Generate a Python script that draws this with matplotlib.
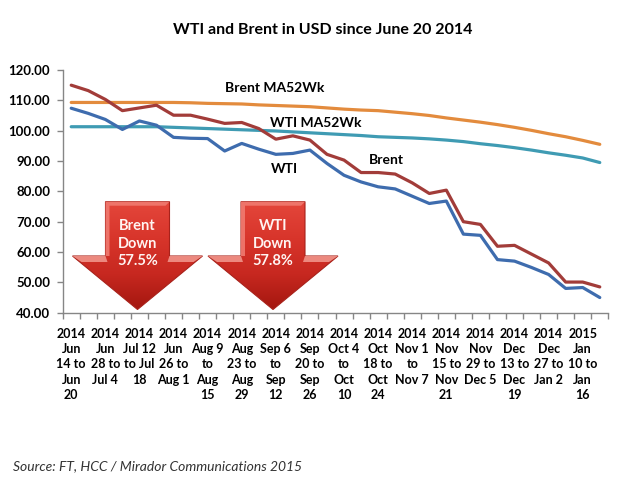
import numpy as np
import matplotlib
matplotlib.use("Agg")
import matplotlib.pyplot as plt
from matplotlib.patches import Polygon

plt.rcParams['font.family'] = ['Lato', 'DejaVu Sans']

# weekly closes, Jun 14-20 2014 ... Jan 17-23 2015 (32 weeks)
brent = [115.0, 113.2, 110.3, 106.6, 107.5, 108.4, 105.1, 105.1,
         103.8, 102.4, 102.7, 100.7, 97.2, 98.3, 96.9, 92.2,
         90.3, 86.2, 86.2, 85.7, 82.8, 79.3, 80.4, 70.0,
         69.1, 61.9, 62.2, 59.3, 56.4, 50.1, 50.1, 48.5]
wti = [107.4, 105.7, 103.7, 100.4, 103.2, 101.8, 97.8, 97.5,
       97.4, 93.3, 95.8, 93.9, 92.2, 92.5, 93.6, 89.2,
       85.3, 83.1, 81.5, 80.8, 78.4, 76.0, 76.8, 65.9,
       65.5, 57.5, 57.0, 54.9, 52.6, 48.0, 48.3, 45.0]
brent_ma = [109.3, 109.3, 109.3, 109.3, 109.3, 109.3, 109.3, 109.2,
            109.0, 108.9, 108.8, 108.5, 108.3, 108.1, 107.9, 107.5,
            107.1, 106.8, 106.6, 106.1, 105.6, 105.0, 104.2, 103.5,
            102.8, 102.0, 101.1, 100.1, 99.0, 98.0, 96.8, 95.5]
wti_ma = [101.3, 101.3, 101.3, 101.3, 101.3, 101.3, 101.1, 100.9,
          100.7, 100.5, 100.3, 100.1, 99.9, 99.6, 99.3, 99.0,
          98.7, 98.4, 98.0, 97.8, 97.6, 97.3, 96.9, 96.4,
          95.7, 95.1, 94.4, 93.6, 92.7, 91.9, 91.0, 89.5]

week_labels = ["2014\nJun\n14 to\nJun\n20", "2014\nJun\n28 to\nJul 4",
               "2014\nJul 12\nto Jul\n18", "2014\nJun\n26 to\nAug 1",
               "2014\nAug 9\nto\nAug\n15", "2014\nAug\n23 to\nAug\n29",
               "2014\nSep 6\nto\nSep\n12", "2014\nSep\n20 to\nSep\n26",
               "2014\nOct 4\nto\nOct\n10", "2014\nOct\n18 to\nOct\n24",
               "2014\nNov 1\nto\nNov 7", "2014\nNov\n15 to\nNov\n21",
               "2014\nNov\n29 to\nDec 5", "2014\nDec\n13 to\nDec\n19",
               "2014\nDec\n27 to\nJan 2", "2015\nJan\n10 to\nJan\n16"]

W, H = 638, 482
fig = plt.figure(figsize=(W / 100, H / 100), dpi=100)
ax = fig.add_axes([62.7 / W, 1 - 312.7 / H, (608.3 - 62.7) / W, (312.7 - 70) / H])

x = np.arange(len(brent))
ax.plot(x, brent_ma, color='#e38b3d', lw=2.3, solid_capstyle='round')
ax.plot(x, wti_ma, color='#3f9bb3', lw=2.3, solid_capstyle='round')
ax.plot(x, brent, color='#a23c39', lw=2.3, solid_capstyle='round')
ax.plot(x, wti, color='#3e6cae', lw=2.3, solid_capstyle='round')

ax.set_xlim(-0.5, len(brent) - 0.5)
ax.set_ylim(40, 120)
ax.set_yticks(np.arange(40, 121, 10))
ax.set_yticklabels(['%.2f' % v for v in np.arange(40, 121, 10)],
                   fontsize=9.5, fontweight='bold')
ax.set_xticks(x[::2])
ax.set_xticklabels(week_labels, fontsize=9, fontweight='bold',
                   linespacing=1.32, va='top')
ax.set_xticks(np.arange(len(brent) + 1) - 0.5, minor=True)
ax.tick_params(axis='x', which='major', length=0, pad=11)
ax.tick_params(axis='x', which='minor', length=4, color='#868686', width=1)
ax.tick_params(axis='y', length=4, color='#868686', width=1, pad=5)
for s in ['top', 'right']:
    ax.spines[s].set_visible(False)
for s in ['left', 'bottom']:
    ax.spines[s].set_color('#868686')
    ax.spines[s].set_linewidth(1)

# series labels
ax.text(275 / W, 1 - 88 / H, 'Brent MA52Wk', transform=fig.transFigure,
        ha='center', va='center', fontsize=10, fontweight='bold')
ax.text(316 / W, 1 - 123 / H, 'WTI MA52Wk', transform=fig.transFigure,
        ha='center', va='center', fontsize=10, fontweight='bold')
ax.text(284 / W, 1 - 169 / H, 'WTI', transform=fig.transFigure,
        ha='center', va='center', fontsize=10, fontweight='bold')
ax.text(386 / W, 1 - 160 / H, 'Brent', transform=fig.transFigure,
        ha='center', va='center', fontsize=10, fontweight='bold')


def px(pts):
    return [(a / W, 1 - b / H) for a, b in pts]


def down_arrow(cx, text):
    top, shoulder, tip = 201.7, 256, 309.5
    bw, hw = 32, 65
    outline = [(cx - bw, top), (cx + bw, top), (cx + bw, shoulder),
               (cx + hw, shoulder), (cx, tip), (cx - hw, shoulder),
               (cx - bw, shoulder)]
    poly = Polygon(px(outline), closed=True, transform=fig.transFigure,
                   facecolor='none', edgecolor='#a8221b', lw=0.8, zorder=5)
    fig.add_artist(poly)
    grad = np.linspace(0, 1, 256).reshape(-1, 1)
    img = fig.add_axes([(cx - hw) / W, 1 - tip / H, 2 * hw / W, (tip - top) / H])
    img.axis('off')
    cmap = matplotlib.colors.LinearSegmentedColormap.from_list(
        'r', ['#e4463b', '#d8352b', '#c72820', '#a3160f'])
    im = img.imshow(grad, aspect='auto', cmap=cmap, extent=[0, 1, 0, 1],
                    origin='upper')
    im.set_clip_path(poly)
    img.set_zorder(4)
    # lighter bevels: body top/left edge and head shoulders
    bevel = [(cx - bw, top), (cx + bw, top), (cx + bw - 4, top + 4),
             (cx - bw + 4, top + 4), (cx - bw + 4, shoulder), (cx - bw, shoulder)]
    fig.add_artist(Polygon(px(bevel), closed=True, transform=fig.transFigure,
                           facecolor='#f07a70', edgecolor='none',
                           alpha=0.9, zorder=6))
    for sgn in (-1, 1):
        sh = [(cx + sgn * bw, shoulder), (cx + sgn * hw, shoulder),
              (cx + sgn * (hw - 9), shoulder + 6), (cx + sgn * (bw - 2), shoulder + 6)]
        fig.add_artist(Polygon(px(sh), closed=True, transform=fig.transFigure,
                               facecolor='#f29a90', edgecolor='none',
                               alpha=0.85, zorder=6))
    fig.text(cx / W, 1 - 243.5 / H, text, ha='center', va='center',
             fontsize=10.5, fontweight='bold', color='#fff4f2',
             linespacing=1.3, zorder=7)


down_arrow(137.5, 'Brent\nDown\n57.5%')
down_arrow(273, 'WTI\nDown\n57.8%')

fig.text(323 / W, 1 - 30 / H, 'WTI and Brent in USD since June 20 2014',
         ha='center', va='center', fontsize=11.5, fontweight='bold')
fig.text(13 / W, 1 - 466 / H, 'Source: FT, HCC / Mirador Communications 2015',
         ha='left', va='center', fontsize=10, style='italic', color='#333333')

fig.savefig('out.png', dpi=100)
